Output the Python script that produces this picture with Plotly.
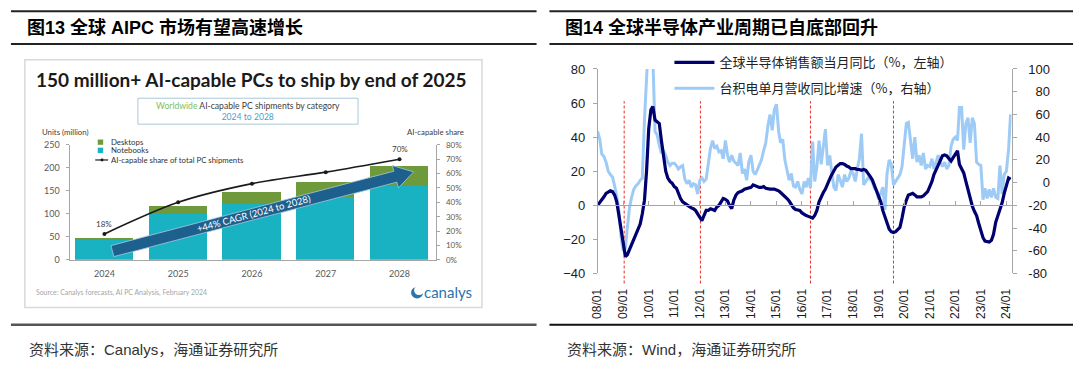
import math
import pandas as pd
import plotly.graph_objects as go

W, H = 1080, 378


def fx(x):
    return x / W


def fy(y):
    return 1 - y / H


# ---------------- data: left chart (Canalys) ----------------
pc_years = [2024, 2025, 2026, 2027, 2028]
pc_year_labels = ["2024", "2025", "2026", "2027", "2028"]
notebooks = [44, 100, 121, 137, 162]
desktops = [3, 18, 26, 32, 42]
ai_share = [0.18, 0.40, 0.53, 0.61, 0.70]
share_label_years = [2024, 2028]
share_label_text = ["18%", "70%"]

# ---------------- data: right chart (monthly, 2008/01 - 2024/03) ----------------
semi_yoy = [
    0.0, 1.5, 3, 5, 7, 8, 8.5, 8, 6, 2, -6, -15,                      # 2008
    -22, -30, -29, -26, -23, -20, -18, -15, -11, -5, 3, 20,           # 2009
    45, 56, 58, 50, 49, 48, 38, 28, 20, 16, 14, 13,                   # 2010
    11, 10, 7, 4, 2, 1, 0, -1, -1.5, -2, -3, -5,                      # 2011
    -7.5, -9, -6, -3, -3, -2, -2.5, -3, -1, 0, 2, 4,                  # 2012
    3.5, 2.5, 0, -2, 3, 6, 7.5, 8, 8.5, 9.5, 10, 10,                  # 2013
    10.5, 12, 11.5, 11, 10.5, 10.5, 11, 10, 9.5, 9.5, 9.5, 9.5,       # 2014
    9, 8.5, 7.5, 6.5, 5.5, 4, 2.5, 0.5, -1.5, -2.5, -3, -3,           # 2015
    -4.5, -5.5, -6, -6.5, -7, -7.5, -6, -3, 2, 5, 7.5, 9.5,           # 2016
    13, 15.5, 18, 20, 22.5, 23.5, 24.5, 24.5, 24, 23, 22.5, 21.5,     # 2017
    21.5, 21.5, 21, 21, 20.5, 21, 20.5, 19, 17, 15, 12, 9,            # 2018
    5.5, 2, -3, -7, -10.5, -14, -15.5, -16, -15.5, -14, -13, -7.5,    # 2019
    -1, 3, 6, 6.5, 7, 6, 5, 5, 5, 5.5, 7, 8,                          # 2020
    11, 14, 18, 21, 24, 27, 29, 29.5, 29, 27.5, 26, 28,               # 2021
    30, 32, 24, 21.5, 19, 14, 9, 4, -0.5, -3.5, -6, -10.5,            # 2022
    -15, -19, -21, -21.5, -21.5, -20.5, -17, -10, -6.5, -3, 1.5, 7,   # 2023
    12, 16, 15.2,                                                     # 2024
]
tsmc_yoy = [
    45, 38, 25, 23, 18, 10, 7, 5, -3, -12, -25, -48,                  # 2008
    -60, -58, -40, -22, -13, -6, -3, -1, 2, 4, 55, 120,               # 2009
    130, 140, 110, 45, 42, 33, 26, 28, 24, 18, 15, 17,                # 2010
    17, 15, 12, 14, 15, 3, -1, 2, -4, -1, -2, -10,                    # 2011
    2, 4, 1, 3, 15, 30, 37, 30, 32, 27, 28, 21,                       # 2012
    37, 24, 18, 24, 19, 17, 15, 26, 8, 12, 2, 18,                     # 2013
    24, 10, 7, 11, 15, 20, 28, 35, 50, 60, 46, 64,                    # 2014
    69, 45, 35, 38, 20, 12, 2, 8, -3, -4, 1, -6,                      # 2015
    -10, 1, -4, 4, -5, 36, 1, 14, 37, 16, 35, 47,                     # 2016
    15, 24, 9, -4, -7, 7, 2, -4, 7, 1, 4, 10,                         # 2017
    8, 1, 12, 21, 43, -2, 1, 4, 3, 1, -5, -7,                         # 2018
    -15, -8, -4, -24, 8, 20, 16, -2, 1, 5, 7, 14,                     # 2019
    33, 52, 53, 35, 21, 40, 18, 24, 15, 26, 12, 15,                   # 2020
    14, 21, 12, 18, 24, 18, 14, 18, 12, 15, 32, 38,                   # 2021
    40, 37, 66, 66, 29, 52, 57, 35, 57, 52, 18, 16,                   # 2022
    15, -15, -5, -14, -6, -13, -5, -13, -14, 15, -10, 7,              # 2023
    10, 29, 60,                                                       # 2024
]
year_tick_vals = ["2008-01-01", "2009-01-01", "2010-01-01", "2011-01-01", "2012-01-01",
                  "2013-01-01", "2014-01-01", "2015-01-01", "2016-01-01", "2017-01-01",
                  "2018-01-01", "2019-01-01", "2020-01-01", "2021-01-01", "2022-01-01",
                  "2023-01-01", "2024-01-01"]
year_tick_text = ["08/01", "09/01", "10/01", "11/01", "12/01", "13/01", "14/01", "15/01",
                  "16/01", "17/01", "18/01", "19/01", "20/01", "21/01", "22/01", "23/01", "24/01"]
trough_months = ["2009-01-15", "2012-01-10", "2016-05-01", "2019-08-01"]
left_axis_vals = [-40, -20, 0, 20, 40, 60, 80]
right_axis_vals = [-80, -60, -40, -20, 0, 20, 40, 60, 80, 100]
right_axis_text = ["-80", "-60", "-40", "-20", "\u2007\u20070", "\u200720", "\u200740",
                   "\u200760", "\u200780", "100"]

months = pd.date_range("2008-01-01", periods=len(semi_yoy), freq="MS")

# ---------------- styles ----------------
CN = "Liberation Sans, Noto Sans CJK SC, sans-serif"
LAT = "Lato, Liberation Sans, sans-serif"
TEAL = "#19b2c3"
GREEN = "#6e9a3b"
ARROW = "#1d5f8d"
NAVY = "#00006e"
LIGHT = "#9dcbf6"
AXGRAY = "#a6a6a6"

fig = go.Figure()

# ---- left chart traces ----
fig.add_bar(x=pc_years, y=notebooks, name="Notebooks", marker=dict(color=TEAL, line=dict(width=0)),
            width=0.79, xaxis="x", yaxis="y", showlegend=False)
fig.add_bar(x=pc_years, y=desktops, name="Desktops", marker=dict(color=GREEN, line=dict(width=0)),
            width=0.79, xaxis="x", yaxis="y", showlegend=False)
fig.add_scatter(x=pc_years, y=ai_share, name="AI-capable share of total PC shipments",
                mode="lines+markers", line=dict(color="#1a1a1a", width=1.6, shape="spline", smoothing=0.9),
                marker=dict(size=4, color="#1a1a1a"), xaxis="x", yaxis="y4", showlegend=False)

# ---- right chart traces ----
fig.add_scatter(x=months, y=tsmc_yoy, name="台积电单月营收同比增速（%，右轴）",
                mode="lines", line=dict(color=LIGHT, width=3), xaxis="x2", yaxis="y2",
                legendrank=2, legendgroup="b")
fig.add_scatter(x=months, y=semi_yoy, name="全球半导体销售额当月同比（%，左轴）",
                mode="lines", line=dict(color=NAVY, width=3.2), xaxis="x3", yaxis="y3",
                legendrank=1, legendgroup="a")

shapes = []
annotations = []

# ---- header / footer rules ----
for (x0, x1) in [(4, 534), (547, 1075)]:
    for yy in (4.5, 38.5):
        shapes.append(dict(type="line", xref="paper", yref="paper", x0=fx(x0), x1=fx(x1),
                           y0=fy(yy), y1=fy(yy), line=dict(color="#222222", width=2)))
shapes.append(dict(type="line", xref="paper", yref="paper", x0=fx(4), x1=fx(534),
                   y0=fy(331), y1=fy(331), line=dict(color="#555555", width=2.5)))
shapes.append(dict(type="line", xref="paper", yref="paper", x0=fx(547), x1=fx(1075),
                   y0=fy(331), y1=fy(331), line=dict(color="#111111", width=2)))

annotations.append(dict(text="图13 全球 AIPC 市场有望高速增长", xref="paper", yref="paper",
                        x=fx(18), y=fy(21.5), xanchor="left", yanchor="middle", showarrow=False,
                        font=dict(family=CN, size=18, color="#000000", weight="bold")))
annotations.append(dict(text="图14 全球半导体产业周期已自底部回升", xref="paper", yref="paper",
                        x=fx(561), y=fy(21.5), xanchor="left", yanchor="middle", showarrow=False,
                        font=dict(family=CN, size=18, color="#000000", weight="bold")))
annotations.append(dict(text="资料来源：Canalys，海通证券研究所", xref="paper", yref="paper",
                        x=fx(20), y=fy(357), xanchor="left", yanchor="middle", showarrow=False,
                        font=dict(family=CN, size=15, color="#333333")))
annotations.append(dict(text="资料来源：Wind，海通证券研究所", xref="paper", yref="paper",
                        x=fx(563), y=fy(357), xanchor="left", yanchor="middle", showarrow=False,
                        font=dict(family=CN, size=15, color="#333333")))

# ---- left embedded chart frame and texts ----
shapes.append(dict(type="rect", xref="paper", yref="paper", x0=fx(18), x1=fx(479), y0=fy(313), y1=fy(55),
                   line=dict(color="#d9d9d9", width=1.5), fillcolor="rgba(0,0,0,0)", layer="below"))
annotations.append(dict(text="150 million+ AI-capable PCs to ship by end of 2025", xref="paper", yref="paper",
                        x=fx(27), y=fy(76), xanchor="left", yanchor="middle", showarrow=False,
                        font=dict(family=LAT, size=19, color="#1a1a1a", weight="bold")))
shapes.append(dict(type="rect", xref="paper", yref="paper", x0=fx(132), x1=fx(354), y0=fy(122), y1=fy(95),
                   line=dict(color="#a9c8d8", width=1), fillcolor="rgba(0,0,0,0)", layer="below"))
annotations.append(dict(text="<span style='color:#86bb5e'>Worldwide</span> AI-capable PC shipments by category"
                             "<br><span style='color:#3ea2d8'>2024 to 2028</span>",
                        xref="paper", yref="paper", x=fx(243), y=fy(108.5), xanchor="center", yanchor="middle",
                        showarrow=False, align="center",
                        font=dict(family=LAT, size=8.6, color="#404040")))
annotations.append(dict(text="Units (million)", xref="paper", yref="paper", x=fx(33), y=fy(130),
                        xanchor="left", yanchor="middle", showarrow=False,
                        font=dict(family=LAT, size=7.8, color="#404040")))
annotations.append(dict(text="AI-capable share", xref="paper", yref="paper", x=fx(463), y=fy(130),
                        xanchor="right", yanchor="middle", showarrow=False,
                        font=dict(family=LAT, size=7.8, color="#404040")))
# manual legend of the embedded chart
shapes.append(dict(type="rect", xref="paper", yref="paper", x0=fx(91.5), x1=fx(97), y0=fy(143.5), y1=fy(138),
                   line=dict(width=0), fillcolor=GREEN))
shapes.append(dict(type="rect", xref="paper", yref="paper", x0=fx(91.5), x1=fx(97), y0=fy(152), y1=fy(146.5),
                   line=dict(width=0), fillcolor=TEAL))
shapes.append(dict(type="line", xref="paper", yref="paper", x0=fx(89), x1=fx(102), y0=fy(159.3), y1=fy(159.3),
                   line=dict(color="#1a1a1a", width=1.2)))
shapes.append(dict(type="circle", xref="paper", yref="paper", x0=fx(94.3), x1=fx(97.3), y0=fy(160.8), y1=fy(157.8),
                   line=dict(width=0), fillcolor="#1a1a1a"))
for txt, yy in [("Desktops", 140.8), ("Notebooks", 149.3), ("AI-capable share of total PC shipments", 159.3)]:
    annotations.append(dict(text=txt, xref="paper", yref="paper", x=fx(102.5), y=fy(yy), xanchor="left",
                            yanchor="middle", showarrow=False, font=dict(family=LAT, size=7.8, color="#333333")))

for yr, txt, val in zip(share_label_years, share_label_text, [ai_share[0], ai_share[-1]]):
    annotations.append(dict(text=txt, xref="x", yref="y4", x=yr, y=val, yshift=10, showarrow=False,
                            xanchor="center", yanchor="middle", font=dict(family=LAT, size=8, color="#404040")))

# CAGR arrow (decoration, pixel geometry)
tx, ty = 106.3, 254.2
hx, hy = 410.0, 171.7
L = math.hypot(hx - tx, hy - ty)
ux, uy = (hx - tx) / L, (hy - ty) / L
nx, ny = -uy, ux
w, hw, hl = 5.9, 12.0, 19.0
bx, by = hx - ux * hl, hy - uy * hl
pts = [(tx + nx * w, ty + ny * w), (bx + nx * w, by + ny * w), (bx + nx * hw, by + ny * hw), (hx, hy),
       (bx - nx * hw, by - ny * hw), (bx - nx * w, by - ny * w), (tx - nx * w, ty - ny * w)]
path = "M " + " L ".join(f"{fx(x):.5f},{fy(y):.5f}" for x, y in pts) + " Z"
shapes.append(dict(type="path", xref="paper", yref="paper", path=path, fillcolor=ARROW,
                   line=dict(color="#a8c6dc", width=0.8), layer="above"))
ang = math.degrees(math.atan2(ty - hy, hx - tx))
mx, my = tx + ux * 148, ty + uy * 148
annotations.append(dict(text="+44% CAGR (2024 to 2028)", xref="paper", yref="paper", x=fx(mx), y=fy(my),
                        xanchor="center", yanchor="middle", showarrow=False, textangle=-ang,
                        font=dict(family=LAT, size=9.5, color="#ffffff")))

annotations.append(dict(text="Source: Canalys forecasts, AI PC Analysis, February 2024", xref="paper",
                        yref="paper", x=fx(27.5), y=fy(297.5), xanchor="left", yanchor="middle",
                        showarrow=False, font=dict(family=LAT, size=6.9, color="#a6a6a6")))
shapes.append(dict(type="circle", xref="paper", yref="paper", x0=fx(407.5), x1=fx(419.5), y0=fy(303.5),
                   y1=fy(291.5), line=dict(width=0), fillcolor="#2b74ad"))
shapes.append(dict(type="circle", xref="paper", yref="paper", x0=fx(410.5), x1=fx(420.5), y0=fy(300),
                   y1=fy(290), line=dict(width=0), fillcolor="#ffffff"))
annotations.append(dict(text="canalys", xref="paper", yref="paper", x=fx(418), y=fy(296.5), xanchor="left",
                        yanchor="middle", showarrow=False, font=dict(family=LAT, size=15, color="#2b74ad")))

# ---- right chart: trough markers ----
for d in trough_months:
    shapes.append(dict(type="line", xref="x2", yref="paper", x0=d, x1=d, y0=fy(288), y1=fy(98),
                       line=dict(color="#e8302a", width=1, dash="3px,2px"), layer="below"))

x_range = ["2007-12-24", "2024-03-15"]

fig.update_layout(
    width=W, height=H, margin=dict(l=0, r=0, t=0, b=0),
    paper_bgcolor="white", plot_bgcolor="rgba(0,0,0,0)",
    barmode="stack", bargap=0,
    shapes=shapes, annotations=annotations,
    showlegend=True,
    legend=dict(x=fx(668), y=fy(42), xanchor="left", yanchor="top", bgcolor="rgba(0,0,0,0)",
                font=dict(family="Noto Sans CJK SC, sans-serif", size=13, color="#222222"),
                traceorder="grouped", tracegroupgap=6, itemwidth=40),
    # left embedded chart axes
    xaxis=dict(domain=[fx(64), fx(433)], range=[2023.54, 2028.5], anchor="y", tickvals=pc_years,
               ticktext=pc_year_labels, showline=True, linecolor=AXGRAY, linewidth=1, ticks="",
               showgrid=False, zeroline=False, tickfont=dict(family=LAT, size=9, color="#595959"),
               ticklabelstandoff=5),
    yaxis=dict(domain=[fy(263.3), fy(143.5)], range=[0, 250], anchor="x", dtick=50, showline=True,
               linecolor=AXGRAY, linewidth=1, ticks="outside", ticklen=3, tickcolor=AXGRAY,
               showgrid=False, zeroline=False, tickfont=dict(family=LAT, size=9, color="#595959"),
               ticklabelstandoff=5),
    yaxis4=dict(overlaying="y", side="right", anchor="x", range=[0, 0.8], dtick=0.1, tickformat=".0%",
                showline=True, linecolor=AXGRAY, linewidth=1, ticks="outside", ticklen=3, tickcolor=AXGRAY,
                showgrid=False, zeroline=False, tickfont=dict(family=LAT, size=8, color="#595959"),
                ticklabelstandoff=4),
    # right chart axes
    xaxis2=dict(type="date", domain=[fx(595), fx(1013)], range=x_range, anchor="free", position=fy(277.5),
                tickvals=year_tick_vals, ticktext=year_tick_text, tickangle=-90, showline=False, ticks="",
                showgrid=False, zeroline=False, tickfont=dict(family=CN, size=12, color="#1a1a1a"),
                ticklabelstandoff=12),
    xaxis3=dict(type="date", overlaying="x2", range=x_range, anchor="free", position=fy(206.5),
                tickvals=year_tick_vals, showticklabels=False, showline=True, linecolor=AXGRAY,
                linewidth=1.3, ticks="inside", ticklen=4, tickcolor=AXGRAY, showgrid=False, zeroline=False),
    yaxis2=dict(domain=[fy(277.5), fy(64.5)], range=[-80, 100], side="right", anchor="free",
                position=fx(1013), tickvals=right_axis_vals, ticktext=right_axis_text, showline=True,
                linecolor=AXGRAY, linewidth=1.3, ticks="outside", ticklen=4, tickcolor=AXGRAY,
                showgrid=False, zeroline=False, tickfont=dict(family=CN, size=13, color="#1a1a1a"),
                ticklabelstandoff=9),
    yaxis3=dict(overlaying="y2", range=[-40, 80], side="left", anchor="free", position=fx(595),
                tickvals=left_axis_vals, showline=True, linecolor=AXGRAY, linewidth=1.3, ticks="outside",
                ticklen=4, tickcolor=AXGRAY, showgrid=False, zeroline=False,
                tickfont=dict(family=CN, size=13, color="#1a1a1a"), ticklabelstandoff=5),
)

fig.write_html("out.html", config={"displayModeBar": False},
               post_script="document.body.style.margin='0px';document.body.style.overflow='hidden';")
